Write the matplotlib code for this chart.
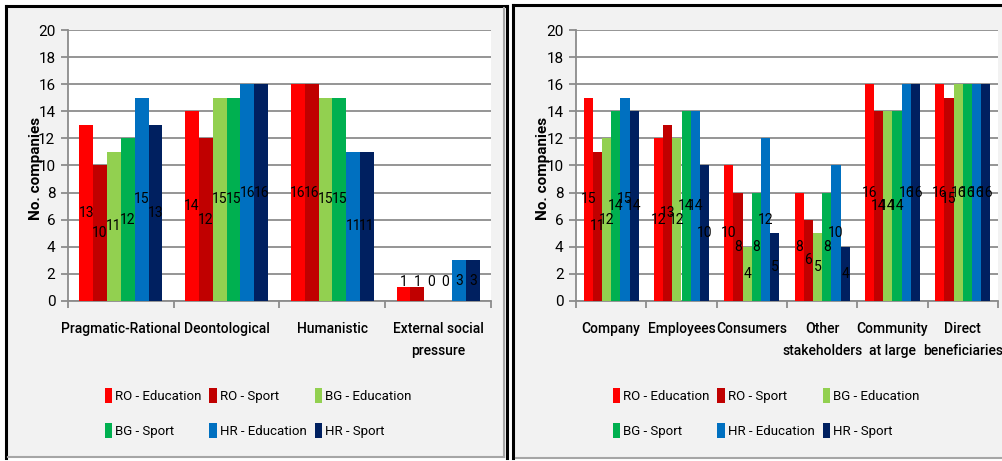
import matplotlib
matplotlib.use("Agg")
import matplotlib.pyplot as plt
from matplotlib import font_manager
from matplotlib.patches import Rectangle, Patch
from matplotlib.lines import Line2D
import numpy as np

installed = {f.name for f in font_manager.fontManager.ttflist}
base = next((f for f in ["Liberation Sans Narrow", "DejaVu Sans Condensed", "Roboto"]
             if f in installed), "DejaVu Sans")
plt.rcParams['font.family'] = [base, 'DejaVu Sans']

series = ["RO - Education", "RO - Sport", "BG - Education",
          "BG - Sport", "HR - Education", "HR - Sport"]
colors = ["#FF0000", "#C00000", "#92D050", "#00B050", "#0070C0", "#002060"]

motives = ["Pragmatic-Rational", "Deontological", "Humanistic",
           "External social\npressure"]
motive_vals = [
    [13, 14, 16, 1],
    [10, 12, 16, 1],
    [11, 15, 15, 0],
    [12, 15, 15, 0],
    [15, 16, 11, 3],
    [13, 16, 11, 3],
]

targets = ["Company", "Employees", "Consumers", "Other\nstakeholders",
           "Community\nat large", "Direct\nbeneficiaries"]
target_vals = [
    [15, 12, 10, 8, 16, 16],
    [11, 13, 8, 6, 14, 15],
    [12, 12, 4, 5, 14, 16],
    [14, 14, 8, 8, 14, 16],
    [15, 14, 12, 10, 16, 16],
    [14, 10, 5, 4, 16, 16],
]

W, H = 1003, 461
fig = plt.figure(figsize=(W / 100, H / 100), dpi=100)
fig.patch.set_facecolor("white")


def px(x0, y0, x1, y1):
    # pixel box -> figure fraction rect
    return [x0 / W, 1 - y1 / H, (x1 - x0) / W, (y1 - y0) / H]


# panel backgrounds and frames, kept below the axes
for x0, x1 in [(6, 507), (514, 1003)]:
    r = px(x0, 6, x1, 458)
    fig.add_artist(Rectangle((r[0], r[1]), r[2], r[3], transform=fig.transFigure,
                             facecolor="#F2F2F2", edgecolor="none", zorder=-10))
frame = [((6, 6), (6, 458)), ((6, 6), (507, 6)), ((507, 6), (507, 458)),
         ((513, 5), (513, 458)), ((513, 5), (1003, 5))]
for (xa, ya), (xb, yb) in frame:
    fig.add_artist(Line2D([xa / W, xb / W], [1 - ya / H, 1 - yb / H],
                          transform=fig.transFigure, color="black", lw=2.2, zorder=-5))
gray = [((504, 8), (504, 457)), ((8, 457), (504, 457)), ((516, 458), (1003, 458))]
for (xa, ya), (xb, yb) in gray:
    fig.add_artist(Line2D([xa / W, xb / W], [1 - ya / H, 1 - yb / H],
                          transform=fig.transFigure, color="#A6A6A6", lw=1.5, zorder=-5))


def draw(rect, cats, vals, ylab_x, legend_cx):
    ax = fig.add_axes(px(*rect))
    ax.set_zorder(1)
    n = len(cats)
    x = np.arange(n)
    bw = 0.785 / len(series)
    for i, (name, col, v) in enumerate(zip(series, colors, vals)):
        pos = x - 0.3925 + bw * (i + 0.5)
        ax.bar(pos, v, width=bw, color=col, label=name, zorder=3)
        for p, val in zip(pos, v):
            ax.text(p, max(val / 2, 1.4), str(val), ha="center", va="center",
                    fontsize=10, color="black", zorder=4)
    ax.set_xlim(-0.5, n - 0.5)
    ax.set_ylim(0, 20)
    ax.set_yticks(range(0, 21, 2))
    ax.yaxis.grid(True, color="#8C8C8C", lw=1.3, zorder=1)
    ax.set_xticks(x)
    ax.set_xticklabels(cats, fontsize=10, fontweight="medium", linespacing=1.75)
    ax.set_xticks(np.arange(-0.5, n, 1.0), minor=True)
    ax.tick_params(axis="x", which="major", length=0, pad=15)
    ax.tick_params(axis="x", which="minor", length=5, color="#8C8C8C", width=1.3)
    ax.tick_params(axis="y", length=5, color="#8C8C8C", width=1.3, labelsize=11, pad=4)
    for s in ["top", "right"]:
        ax.spines[s].set_visible(False)
    for s in ["left", "bottom"]:
        ax.spines[s].set_color("#8C8C8C")
        ax.spines[s].set_linewidth(1.3)
    fig.text(ylab_x / W, 1 - 168 / H, "No. companies", rotation=90, ha="center",
             va="center", fontsize=11, fontweight="bold")
    handles = [Patch(facecolor=c, edgecolor="none") for c in colors]
    order = [0, 3, 1, 4, 2, 5]
    fig.legend([handles[k] for k in order], [series[k] for k in order], ncol=3,
               loc="center", bbox_to_anchor=(legend_cx / W, 1 - 413 / H),
               frameon=False, fontsize=9.5, handlelength=0.6, handleheight=1.4,
               handletextpad=0.2, columnspacing=0.6, labelspacing=1.55)
    return ax


draw((68, 30, 491, 301), motives, motive_vals, 36, 258)
draw((576, 30, 998, 301), targets, target_vals, 543, 766)

fig.savefig("out.png", dpi=100)
